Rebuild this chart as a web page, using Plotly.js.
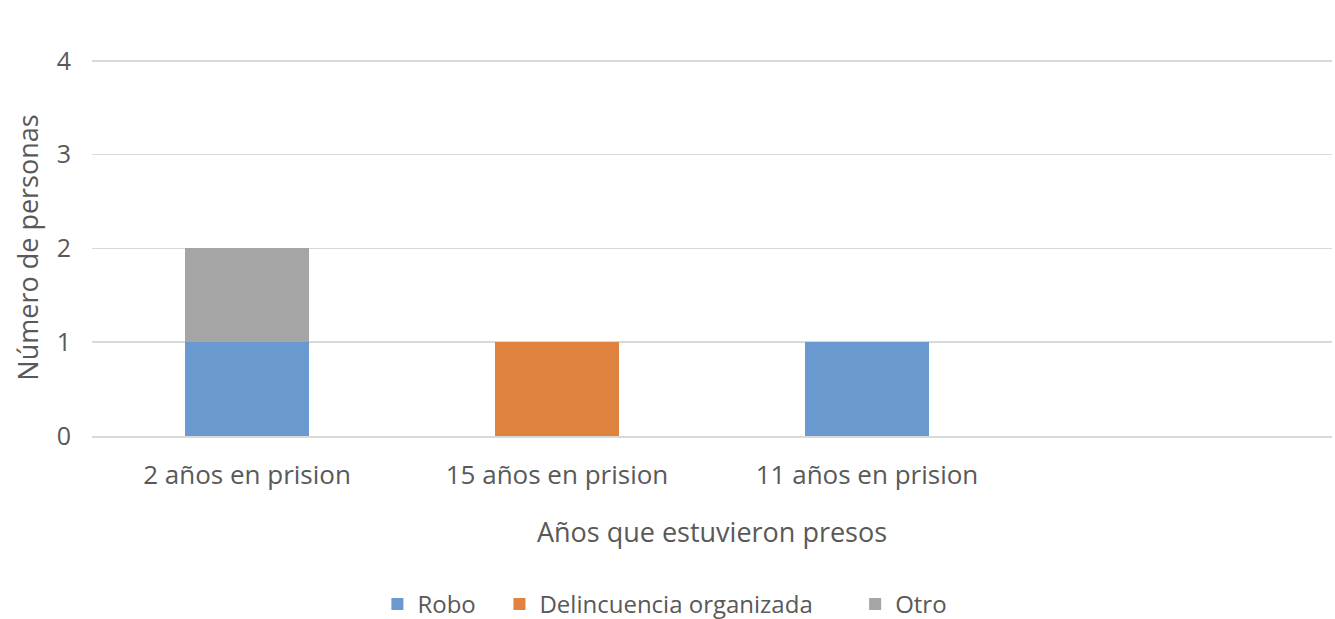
<!DOCTYPE html>
<html><head><meta charset="utf-8">
<script src="https://cdn.plot.ly/plotly-3.0.1.min.js"></script>
<style>html,body{margin:0;padding:0;background:#fff;}#chart{width:1335px;height:619px;}</style>
</head><body><div id="chart"></div>
<script>
const categories = ["2 años en prision", "15 años en prision", "11 años en prision", " "];
const robo = [1, null, 1, null];
const delincuencia = [null, 1, null, null];
const otro = [1, null, null, null];
const seriesNames = ["Robo", "Delincuencia organizada", "Otro"];
const colors = ["#6A99D0", "#E0833F", "#A5A5A5"];
const legendPad = ["\u00A0\u00A0\u00A0", "\u00A0\u00A0\u00A0\u00A0\u00A0\u00A0", ""];
const font = "Open Sans, Liberation Sans, sans-serif";

const traces = [robo, delincuencia, otro].map((v, i) => ({
  type: "bar", x: categories, y: v, name: seriesNames[i] + legendPad[i],
  marker: {color: colors[i]}, hoverinfo: "x+y+name"
}));

const layout = {
  width: 1335, height: 619,
  margin: {l: 92, r: 3, t: 59, b: 183, autoexpand: false},
  barmode: "stack", bargap: 0.6,
  paper_bgcolor: "#fff", plot_bgcolor: "#fff",
  font: {family: font, color: "#595959", size: 24},
  xaxis: {
    type: "category", categoryorder: "array", categoryarray: categories,
    automargin: false,
    showgrid: false, showline: true, linecolor: "#D9D9D9", linewidth: 1.5,
    ticks: "", ticklabelstandoff: 15,
    tickfont: {size: 26, color: "#595959"},
    title: {text: "Años que estuvieron presos", font: {size: 27, color: "#595959"}, standoff: 32}
  },
  yaxis: {
    range: [0, 4.02], dtick: 1, tick0: 0, automargin: false,
    showgrid: true, gridcolor: "#D9D9D9", gridwidth: 1.5,
    zeroline: false, showline: false, ticks: "",
    tickfont: {size: 25, color: "#595959"}, ticklabelstandoff: 20,
    title: {text: "Número de personas", font: {size: 27, color: "#595959"}, standoff: 10}
  },
  legend: {
    orientation: "h", x: 0.462, xanchor: "center", y: -0.447, yanchor: "middle",
    font: {size: 24, color: "#595959"}, traceorder: "normal", itemwidth: 30
  },
  showlegend: true
};
Plotly.newPlot("chart", traces, layout, {displayModeBar: false, staticPlot: true});
</script></body></html>
